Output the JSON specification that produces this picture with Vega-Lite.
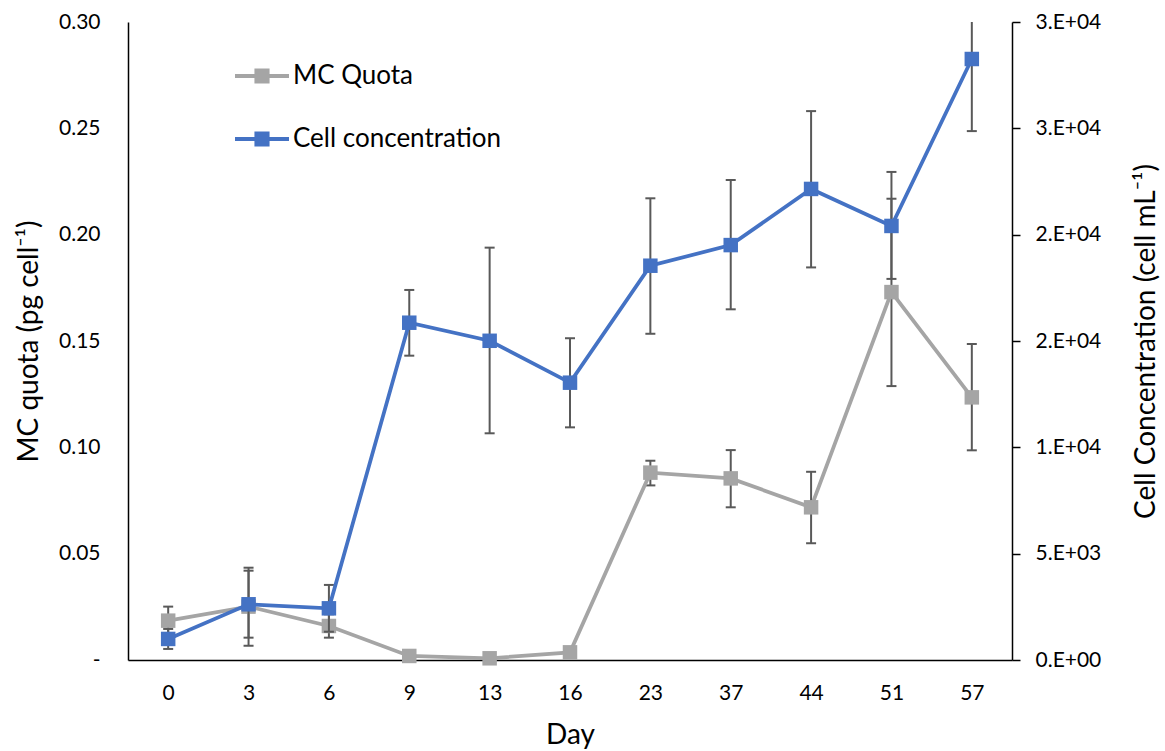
{
  "$schema": "https://vega.github.io/schema/vega-lite/v6.json",
  "width": 884,
  "height": 638,
  "autosize": {"type": "none"},
  "padding": {"left": 128, "top": 22, "right": 153, "bottom": 91},
  "background": "white",
  "config": {
    "font": "Lato",
    "view": {"stroke": null},
    "axis": {
      "grid": false,
      "domainColor": "#000000",
      "domainWidth": 1.5,
      "tickColor": "#000000",
      "tickWidth": 1.5,
      "labelColor": "#000000",
      "titleColor": "#000000",
      "labelFont": "Lato",
      "titleFont": "Lato",
      "labelFontSize": 21,
      "titleFontSize": 28,
      "titleFontWeight": "normal"
    }
  },
  "data": {
    "values": [
      {"day": 0, "quota": 0.0185, "qlo": 0.0119, "qhi": 0.0251, "cells": 990, "clo": 520, "chi": 1460},
      {"day": 3, "quota": 0.0251, "qlo": 0.0067, "qhi": 0.0420, "cells": 2620, "clo": 1050, "chi": 4340},
      {"day": 6, "quota": 0.0160, "qlo": 0.0105, "qhi": 0.0215, "cells": 2430, "clo": 1330, "chi": 3530},
      {"day": 9, "quota": 0.0019, "qlo": null, "qhi": null, "cells": 15860, "clo": 14310, "chi": 17400},
      {"day": 13, "quota": 0.0008, "qlo": null, "qhi": null, "cells": 15010, "clo": 10660, "chi": 19390},
      {"day": 16, "quota": 0.0036, "qlo": null, "qhi": null, "cells": 13040, "clo": 10940, "chi": 15130},
      {"day": 23, "quota": 0.0881, "qlo": 0.0821, "qhi": 0.0937, "cells": 18540, "clo": 15340, "chi": 21710},
      {"day": 37, "quota": 0.0854, "qlo": 0.0718, "qhi": 0.0987, "cells": 19510, "clo": 16490, "chi": 22570},
      {"day": 44, "quota": 0.0718, "qlo": 0.0549, "qhi": 0.0885, "cells": 22150, "clo": 18460, "chi": 25810},
      {"day": 51, "quota": 0.1730, "qlo": 0.1288, "qhi": 0.2169, "cells": 20410, "clo": 17920, "chi": 22950},
      {"day": 57, "quota": 0.1235, "qlo": 0.0986, "qhi": 0.1486, "cells": 28260, "clo": 24870, "chi": 31650}
    ]
  },
  "encoding": {
    "x": {
      "field": "day",
      "type": "ordinal",
      "title": "Day",
      "scale": {"type": "point", "padding": 0.5},
      "axis": {"labelAngle": 0, "ticks": false, "tickSize": 0, "labelPadding": 22, "titlePadding": 18}
    }
  },
  "layer": [
    {
      "layer": [
        {
          "mark": {"type": "rule", "color": "#595959", "strokeWidth": 2, "clip": true},
          "encoding": {
            "y": {
              "field": "qlo",
              "type": "quantitative",
              "title": "MC quota (pg cell⁻¹)",
              "scale": {"domain": [0, 0.3], "nice": false, "zero": true},
              "axis": {
                "orient": "left",
                "values": [0, 0.05, 0.1, 0.15, 0.2, 0.25, 0.3],
                "labelExpr": "datum.value == 0 ? '-\u2002' : format(datum.value, '.2f')",
                "ticks": false,
                "tickSize": 0,
                "labelPadding": 28,
                "titlePadding": 15
              }
            },
            "y2": {"field": "qhi"}
          }
        },
        {
          "mark": {"type": "tick", "color": "#595959", "thickness": 2, "size": 10, "clip": true, "opacity": 1},
          "encoding": {"y": {"field": "qlo", "type": "quantitative", "title": "MC quota (pg cell⁻¹)"}}
        },
        {
          "mark": {"type": "tick", "color": "#595959", "thickness": 2, "size": 10, "clip": true, "opacity": 1},
          "encoding": {"y": {"field": "qhi", "type": "quantitative", "title": "MC quota (pg cell⁻¹)"}}
        },
        {
          "mark": {"type": "line", "color": "#A5A5A5", "strokeWidth": 3.75},
          "encoding": {"y": {"field": "quota", "type": "quantitative", "title": "MC quota (pg cell⁻¹)"}}
        },
        {
          "mark": {"type": "point", "shape": "square", "filled": true, "size": 210, "opacity": 1, "strokeWidth": 0},
          "encoding": {
            "y": {"field": "quota", "type": "quantitative", "title": "MC quota (pg cell⁻¹)"},
            "color": {
              "datum": "MC Quota",
              "type": "nominal",
              "scale": {"domain": ["MC Quota", "Cell concentration"], "range": ["#A5A5A5", "#4472C4"]},
              "legend": {
                "orient": "none",
                "legendX": 107,
                "legendY": 27,
                "title": null,
                "padding": 0,
                "symbolType": "M-1,-0.07H1V0.07H-1Z M-0.28,-0.28H0.28V0.28H-0.28Z",
                "symbolSize": 2916,
                "symbolStrokeWidth": 0,
                "symbolOpacity": 1,
                "labelFont": "Lato",
                "labelFontSize": 26,
                "labelColor": "#000000",
                "labelOffset": 4,
                "labelLimit": 400,
                "rowPadding": 23
              }
            }
          }
        }
      ]
    },
    {
      "layer": [
        {
          "mark": {"type": "rule", "color": "#595959", "strokeWidth": 2, "clip": true},
          "encoding": {
            "y": {
              "field": "clo",
              "type": "quantitative",
              "title": "Cell Concentration (cell mL⁻¹)",
              "scale": {"domain": [0, 30000], "nice": false, "zero": true},
              "axis": {
                "orient": "right",
                "values": [0, 5000, 10000, 15000, 20000, 25000, 30000],
                "labelExpr": "datum.value == 0 ? '0.E+00' : datum.value == 5000 ? '5.E+03' : toString(round(datum.value / 10000)) + '.E+04'",
                "ticks": true,
                "tickSize": 8,
                "labelPadding": 15,
                "titleAngle": 270,
                "titleBaseline": "top",
                "titlePadding": 32
              }
            },
            "y2": {"field": "chi"}
          }
        },
        {
          "mark": {"type": "tick", "color": "#595959", "thickness": 2, "size": 10, "clip": true, "opacity": 1},
          "encoding": {"y": {"field": "clo", "type": "quantitative", "title": "Cell Concentration (cell mL⁻¹)"}}
        },
        {
          "mark": {"type": "tick", "color": "#595959", "thickness": 2, "size": 10, "clip": true, "opacity": 1},
          "encoding": {"y": {"field": "chi", "type": "quantitative", "title": "Cell Concentration (cell mL⁻¹)"}}
        },
        {
          "mark": {"type": "line", "color": "#4472C4", "strokeWidth": 3.75},
          "encoding": {"y": {"field": "cells", "type": "quantitative", "title": "Cell Concentration (cell mL⁻¹)"}}
        },
        {
          "mark": {"type": "point", "shape": "square", "filled": true, "size": 210, "opacity": 1, "strokeWidth": 0},
          "encoding": {
            "y": {"field": "cells", "type": "quantitative", "title": "Cell Concentration (cell mL⁻¹)"},
            "color": {"datum": "Cell concentration", "type": "nominal"}
          }
        }
      ]
    }
  ],
  "resolve": {"scale": {"y": "independent"}}
}
